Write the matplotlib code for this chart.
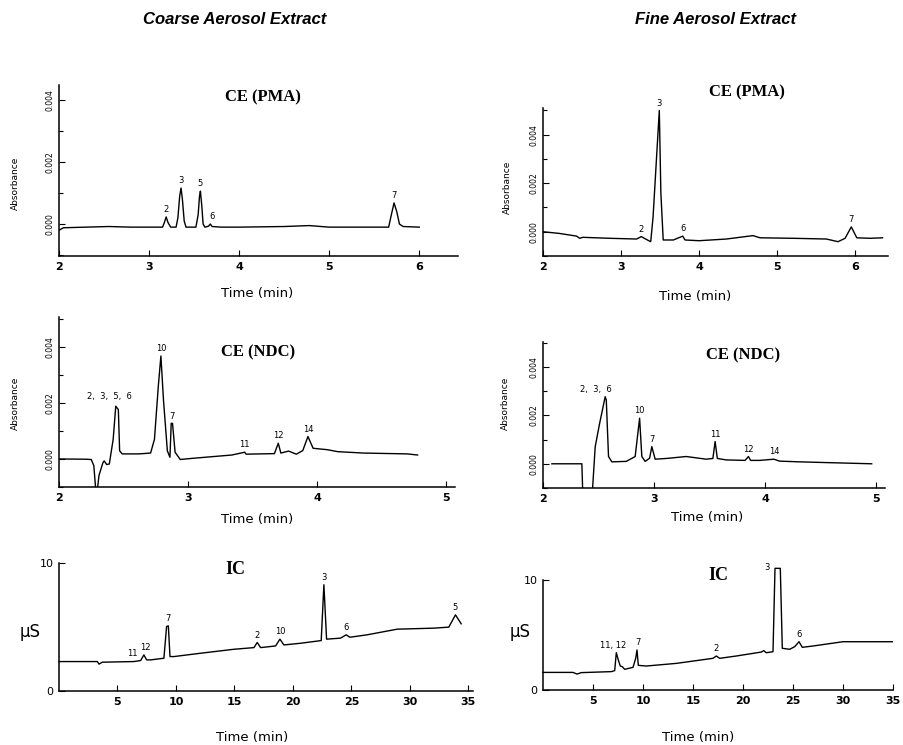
import numpy as np
import matplotlib
matplotlib.use("Agg")
from matplotlib import pyplot as plt

# --- data ---

# coarse extract, CE (PMA): time (min), absorbance
coarse_pma_t = [2.00, 2.05, 2.30, 2.55, 2.80, 3.00, 3.15, 3.17, 3.19, 3.21, 3.24, 3.30, 3.32,
                3.34, 3.355, 3.37, 3.39, 3.41, 3.52, 3.545, 3.56, 3.57, 3.585, 3.60, 3.62,
                3.66, 3.68, 3.70, 3.80, 4.00, 4.50, 4.78, 5.00, 5.50, 5.66, 5.69, 5.72,
                5.75, 5.78, 5.82, 6.00]
coarse_pma_a = [-0.00020, -0.00012, -0.00010, -0.00008, -0.00010, -0.00010, -0.00010, 0.00005,
                0.00023, 0.00005, -0.00010, -0.00010, 0.00020, 0.00090, 0.00116, 0.00080,
                0.00010, -0.00010, -0.00010, 0.00030, 0.00090, 0.00106, 0.00060, 0.00000,
                -0.00010, -0.00007, 0.00000, -0.00008, -0.00010, -0.00010, -0.00008,
                -0.00005, -0.00010, -0.00010, -0.00010, 0.00030, 0.00068, 0.00040, 0.00000,
                -0.00008, -0.00010]
coarse_pma_peaks = ["2", "3", "5", "6", "7"]
coarse_pma_peak_t = [3.19, 3.355, 3.57, 3.70, 5.72]
coarse_pma_peak_a = [0.00023, 0.00116, 0.00106, 0.00000, 0.00068]

# fine extract, CE (PMA)
fine_pma_t = [2.00, 2.21, 2.43, 2.47, 2.51, 2.85, 3.20, 3.26, 3.32, 3.38, 3.41, 3.49, 3.51,
              3.54, 3.67, 3.79, 3.82, 4.00, 4.35, 4.69, 4.78, 5.20, 5.63, 5.78, 5.87, 5.95,
              6.02, 6.19, 6.35]
fine_pma_a = [0.00000, -0.00007, -0.00018, -0.00027, -0.00023, -0.00027, -0.00030, -0.00020,
              -0.00031, -0.00041, 0.00060, 0.00500, 0.00160, -0.00034, -0.00034, -0.00018,
              -0.00034, -0.00037, -0.00030, -0.00016, -0.00025, -0.00027, -0.00030, -0.00041,
              -0.00027, 0.00020, -0.00025, -0.00027, -0.00025]
fine_pma_peaks = ["2", "3", "6", "7"]
fine_pma_peak_t = [3.26, 3.49, 3.79, 5.95]
fine_pma_peak_a = [-0.00020, 0.00500, -0.00018, 0.00020]

# coarse extract, CE (NDC)
coarse_ndc_t = [2.00, 2.21, 2.25, 2.27, 2.29, 2.31, 2.34, 2.35, 2.37, 2.39, 2.42, 2.44, 2.46,
                2.47, 2.49, 2.62, 2.71, 2.74, 2.77, 2.79, 2.81, 2.84, 2.86, 2.87, 2.88, 2.90,
                2.94, 3.03, 3.21, 3.34, 3.44, 3.45, 3.67, 3.70, 3.72, 3.78, 3.84, 3.89, 3.93,
                3.97, 4.08, 4.16, 4.36, 4.70, 4.78]
coarse_ndc_a = [0.00000, -0.00001, -0.00002, -0.00024, -0.00140, -0.00059, -0.00014, -0.00007,
                -0.00020, -0.00018, 0.00070, 0.00188, 0.00176, 0.00029, 0.00018, 0.00018,
                0.00021, 0.00070, 0.00260, 0.00367, 0.00210, 0.00029, 0.00006, 0.00127,
                0.00127, 0.00024, -0.00002, 0.00002, 0.00009, 0.00014, 0.00024, 0.00017,
                0.00019, 0.00056, 0.00021, 0.00028, 0.00017, 0.00030, 0.00080, 0.00038,
                0.00033, 0.00026, 0.00021, 0.00018, 0.00014]
coarse_ndc_peaks = ["2,  3,  5,  6", "10", "7", "11", "12", "14"]
coarse_ndc_peak_t = [2.39, 2.79, 2.875, 3.44, 3.70, 3.93]
coarse_ndc_peak_a = [0.00196, 0.00367, 0.00127, 0.00024, 0.00056, 0.00080]

# fine extract, CE (NDC)
fine_ndc_t = [2.08, 2.35, 2.36, 2.44, 2.47, 2.51, 2.56, 2.57, 2.59, 2.62, 2.75, 2.83, 2.87,
              2.89, 2.92, 2.96, 2.98, 3.01, 3.11, 3.29, 3.47, 3.53, 3.55, 3.57, 3.65, 3.82,
              3.85, 3.87, 3.95, 4.08, 4.13, 4.31, 4.55, 4.96]
fine_ndc_a = [0.00000, 0.00000, -0.00150, -0.00150, 0.00070, 0.00167, 0.00277, 0.00263,
              0.00030, 0.00008, 0.00010, 0.00030, 0.00188, 0.00030, 0.00010, 0.00023,
              0.00071, 0.00019, 0.00022, 0.00030, 0.00019, 0.00022, 0.00092, 0.00022,
              0.00016, 0.00014, 0.00030, 0.00014, 0.00014, 0.00019, 0.00011, 0.00008,
              0.00005, 0.00000]
fine_ndc_peaks = ["2,  3,  6", "10", "7", "11", "12", "14"]
fine_ndc_peak_t = [2.48, 2.87, 2.98, 3.55, 3.85, 4.08]
fine_ndc_peak_a = [0.00277, 0.00188, 0.00071, 0.00092, 0.00030, 0.00019]

# coarse extract, IC: time (min), conductivity (uS)
coarse_ic_t = [0.0, 3.28, 3.42, 3.70, 6.40, 6.98, 7.26, 7.49, 7.83, 8.97, 9.20, 9.35, 9.49,
               9.83, 12.1, 14.96, 16.67, 16.95, 17.24, 18.52, 18.89, 19.23, 20.66, 22.42,
               22.65, 22.88, 24.07, 24.56, 24.87, 26.35, 28.92, 32.05, 33.33, 33.90, 34.39]
coarse_ic_s = [2.30, 2.30, 2.10, 2.25, 2.30, 2.38, 2.82, 2.43, 2.43, 2.56, 5.04, 5.09, 2.69,
               2.69, 2.95, 3.26, 3.39, 3.79, 3.39, 3.52, 4.05, 3.60, 3.73, 3.94, 8.30, 4.05,
               4.13, 4.39, 4.20, 4.39, 4.83, 4.91, 4.99, 5.95, 5.25]
coarse_ic_peaks = ["11", "12", "7", "2", "10", "3", "6", "5"]
coarse_ic_peak_t = [6.3, 7.35, 9.3, 16.95, 18.89, 22.65, 24.56, 33.9]
coarse_ic_peak_s = [2.35, 2.82, 5.09, 3.79, 4.05, 8.30, 4.39, 5.95]

# fine extract, IC
fine_ic_t = [0.0, 3.0, 3.4, 3.83, 6.83, 7.17, 7.33, 7.53, 7.73, 7.93, 8.17, 9.0, 9.27, 9.4,
             9.53, 10.33, 13.33, 17.0, 17.33, 17.67, 19.33, 21.0, 21.83, 22.07, 22.33, 23.0,
             23.2, 23.73, 23.93, 24.67, 25.17, 25.6, 25.93, 27.0, 30.0, 34.93]
fine_ic_s = [1.60, 1.60, 1.45, 1.58, 1.67, 1.76, 3.39, 2.73, 2.18, 2.12, 1.88, 2.06, 2.88,
             3.64, 2.24, 2.18, 2.42, 2.88, 3.09, 2.88, 3.09, 3.33, 3.45, 3.58, 3.39, 3.48,
             11.06, 11.06, 3.79, 3.70, 3.94, 4.39, 3.88, 4.00, 4.39, 4.39]
fine_ic_peaks = ["11, 12", "7", "2", "3", "6"]
fine_ic_peak_t = [7.0, 9.5, 17.33, 22.4, 25.6]
fine_ic_peak_s = [3.39, 3.64, 3.09, 10.5, 4.39]


W, H = 904, 745


def px_axes(fig, left, right, top, bottom):
    return fig.add_axes([left / W, 1 - bottom / H, (right - left) / W, (bottom - top) / H])


def style_axes(ax):
    for side in ["top", "right"]:
        ax.spines[side].set_visible(False)
    for side in ["left", "bottom"]:
        ax.spines[side].set_linewidth(1.1)
    ax.tick_params(which="both", direction="in", width=0.8, pad=4)
    ax.tick_params(which="major", length=4)
    ax.tick_params(which="minor", length=3)
    ax.tick_params(axis="x", labelsize=8)
    for lab in ax.get_xticklabels():
        lab.set_fontweight("bold")


def label_peaks(ax, peaks, peak_t, peak_y):
    for name, x, y in zip(peaks, peak_t, peak_y):
        ax.annotate(name, (x, y), xytext=(0, 2), textcoords="offset points",
                    ha="center", va="bottom", fontsize=6, annotation_clip=False)


def absorbance_panel(fig, box, t, a, xlim, ylim, xticks, peaks, peak_t, peak_a, title, title_xy):
    ax = px_axes(fig, *box)
    ax.plot(t, a, color="black", lw=1.0)
    ax.set_xlim(*xlim)
    ax.set_ylim(*ylim)
    ax.set_xticks(xticks)
    ax.set_yticks([0.0, 0.002, 0.004])
    ax.set_yticks(np.arange(-0.001, ylim[1], 0.001), minor=True)
    ax.set_yticklabels(["0.000", "0.002", "0.004"], rotation=90, va="center", fontsize=5.5)
    style_axes(ax)
    ax.tick_params(axis="y", pad=3)
    label_peaks(ax, peaks, peak_t, peak_a)
    fig.text(title_xy[0] / W, 1 - title_xy[1] / H, title, family="Liberation Serif",
             fontweight="bold", fontsize=12, ha="center", va="center")
    return ax


def ic_panel(fig, box, t, s, xlim, peaks, peak_t, peak_s, title_xy):
    ax = px_axes(fig, *box)
    ax.plot(t, s, color="black", lw=1.0, clip_on=False)
    ax.set_xlim(*xlim)
    ax.set_ylim(0, 10)
    ax.set_xticks([5, 10, 15, 20, 25, 30, 35])
    ax.set_yticks([0, 10])
    style_axes(ax)
    ax.tick_params(axis="y", labelsize=8)
    label_peaks(ax, peaks, peak_t, peak_s)
    fig.text(title_xy[0] / W, 1 - title_xy[1] / H, "IC", family="Liberation Serif",
             fontweight="bold", fontsize=13, ha="center", va="center")
    return ax


fig = plt.figure(figsize=(W / 100, H / 100), dpi=100)

fig.text(235 / W, 1 - 20 / H, "Coarse Aerosol Extract", family="Liberation Sans",
         style="italic", fontweight="bold", fontsize=12, ha="center", va="center")
fig.text(716 / W, 1 - 20 / H, "Fine Aerosol Extract", family="Liberation Sans",
         style="italic", fontweight="bold", fontsize=12, ha="center", va="center")

absorbance_panel(fig, (59, 458, 85, 256), coarse_pma_t, coarse_pma_a, (2, 6.43), (-0.00103, 0.00448),
                 [2, 3, 4, 5, 6], coarse_pma_peaks, coarse_pma_peak_t, coarse_pma_peak_a,
                 "CE (PMA)", (263, 97))
absorbance_panel(fig, (543, 888, 108, 256), fine_pma_t, fine_pma_a, (2, 6.42), (-0.0010, 0.0051),
                 [2, 3, 4, 5, 6], fine_pma_peaks, fine_pma_peak_t, fine_pma_peak_a,
                 "CE (PMA)", (747, 92))
absorbance_panel(fig, (59, 455, 317, 487), coarse_ndc_t, coarse_ndc_a, (2, 5.07), (-0.00094, 0.00506),
                 [2, 3, 4, 5], coarse_ndc_peaks, coarse_ndc_peak_t, coarse_ndc_peak_a,
                 "CE (NDC)", (258, 352))
absorbance_panel(fig, (543, 885, 342, 488), fine_ndc_t, fine_ndc_a, (2, 5.08), (-0.0010, 0.00503),
                 [2, 3, 4, 5], fine_ndc_peaks, fine_ndc_peak_t, fine_ndc_peak_a,
                 "CE (NDC)", (743, 355))

ic_panel(fig, (59, 473, 563, 691), coarse_ic_t, coarse_ic_s, (0, 35.4),
         coarse_ic_peaks, coarse_ic_peak_t, coarse_ic_peak_s, (235, 570))
ic_panel(fig, (543, 893, 580, 690), fine_ic_t, fine_ic_s, (0, 35),
         fine_ic_peaks, fine_ic_peak_t, fine_ic_peak_s, (718, 575))

# axis labels placed as in the scan
for x, y in [(257, 293), (695, 297), (257, 520), (707, 517), (252, 737), (698, 737)]:
    fig.text(x / W, 1 - y / H, "Time (min)", fontsize=9.5, ha="center", va="center")
for x, y in [(15, 183), (507, 187), (15, 403), (505, 403)]:
    fig.text(x / W, 1 - y / H, "Absorbance", fontsize=6.5, rotation=90, ha="center", va="center")
for x, y in [(30, 632), (520, 632)]:
    fig.text(x / W, 1 - y / H, "µS", fontsize=12, ha="center", va="center")

fig.savefig("out.png", dpi=100)
